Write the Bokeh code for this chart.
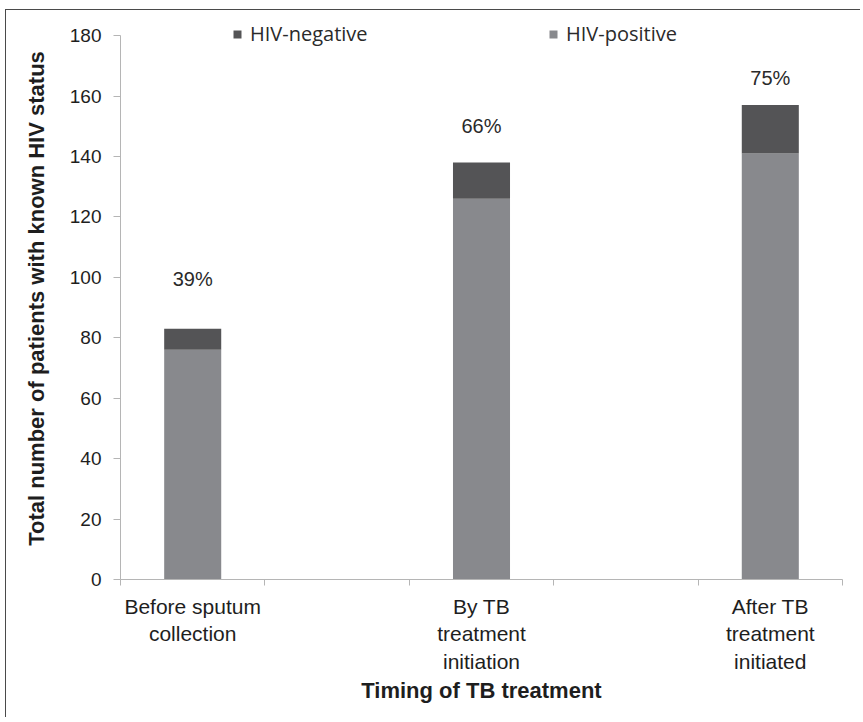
from bokeh.plotting import figure
from bokeh.models import FixedTicker, Legend, LegendItem, Range1d
from bokeh.core.properties import value
from bokeh.embed import file_html
from bokeh.resources import INLINE

# ---- data ----
categories = ["Before sputum\ncollection", "By TB\ntreatment\ninitiation", "After TB\ntreatment\ninitiated"]
hiv_positive = [76, 126, 141]
hiv_negative = [7, 12, 16]
pct_labels = ["39%", "66%", "75%"]
y_ticks = [0, 20, 40, 60, 80, 100, 120, 140, 160, 180]

# ---- layout / style constants ----
slot_index = [0, 2, 4]          # categories sit in slots 1, 3, 5 of five slots
n_slots = 5
xs = [2 * s + 1 for s in slot_index]   # slot centres on a 0..10 scale
boundaries = list(range(0, 2 * n_slots + 1, 2))
totals = [a + b for a, b in zip(hiv_positive, hiv_negative)]
Y_AXIS_MAX = 180
Y_VIEW_MAX = 186
PX_PER_UNIT = 3.022
FH = round(Y_VIEW_MAX * PX_PER_UNIT)
label_gap_px = [50, 37, 27]
label_y = [t + g / PX_PER_UNIT for t, g in zip(totals, label_gap_px)]

POS = "#88898d"
NEG = "#545456"
AX = "#b5b5b5"
FONT = "Liberation Sans"

p = figure(
    frame_width=722, frame_height=FH,
    min_border_left=114, min_border_right=18, min_border_top=7, min_border_bottom=138,
    x_range=Range1d(0, 2 * n_slots), y_range=Range1d(0, Y_VIEW_MAX),
    output_backend="svg", toolbar_location=None, tools="",
    background_fill_color="white", border_fill_color="white",
)
p.outline_line_color = None
p.grid.visible = False
p.styles = {"border-left": "1px solid #4a4a4a", "border-top": "1px solid #4a4a4a",
            "margin-left": "5px", "margin-top": "9px"}

r_pos = p.vbar(x=xs, bottom=0, top=hiv_positive, width=0.79, fill_color=POS, line_color=None)
r_neg = p.vbar(x=xs, bottom=hiv_positive, top=totals, width=0.79, fill_color=NEG, line_color=None)

p.text(x=xs, y=label_y, text=pct_labels, text_align="center", text_baseline="middle",
       text_font=value(FONT), text_font_size="20px", text_color="#2a2a2a")

# y axis
ya = p.yaxis[0]
ya.ticker = FixedTicker(ticks=y_ticks)
ya.bounds = (0, Y_AXIS_MAX)
ya.axis_line_color = AX
ya.major_tick_line_color = AX
ya.major_tick_out = 7
ya.major_tick_in = 0
ya.minor_tick_line_color = None
ya.major_label_text_font = FONT
ya.major_label_text_font_size = "19px"
ya.major_label_text_color = "#1e1e1e"
ya.major_label_standoff = 12
ya.axis_label = "Total number of patients with known HIV status"
ya.axis_label_text_font = FONT
ya.axis_label_text_font_style = "bold"
ya.axis_label_text_font_size = "22px"
ya.axis_label_text_color = "#1e1e1e"
ya.axis_label_standoff = 18

# x axis
xa = p.xaxis[0]
xa.ticker = FixedTicker(ticks=xs, minor_ticks=boundaries)
xa.major_label_overrides = {x: c for x, c in zip(xs, categories)}
xa.axis_line_color = AX
xa.major_tick_line_color = None
xa.minor_tick_line_color = AX
xa.minor_tick_out = 6
xa.minor_tick_in = 0
xa.major_label_text_font = FONT
xa.major_label_text_font_size = "21px"
xa.major_label_text_color = "#1e1e1e"
xa.major_label_standoff = 9
xa.axis_label = "Timing of TB treatment"
xa.axis_label_text_font = FONT
xa.axis_label_text_font_style = "bold"
xa.axis_label_text_font_size = "22px"
xa.axis_label_text_color = "#1e1e1e"
xa.axis_label_standoff = 2

# legends (location in px from the frame's bottom-left corner)
def make_legend(label, rend, x):
    lg = Legend(items=[LegendItem(label=label, renderers=[rend])], location=(x, FH - 30),
                orientation="horizontal", glyph_width=10, glyph_height=10, label_standoff=8,
                padding=0, margin=0, border_line_color=None, background_fill_alpha=0,
                label_text_font="Open Sans", label_text_font_size="20px",
                label_text_color="#2a2a2a", label_text_baseline="middle")
    p.add_layout(lg, "center")

make_legend("HIV-negative", r_neg, 112)
make_legend("HIV-positive", r_pos, 428)

open("out.html", "w").write(file_html(p, INLINE))
